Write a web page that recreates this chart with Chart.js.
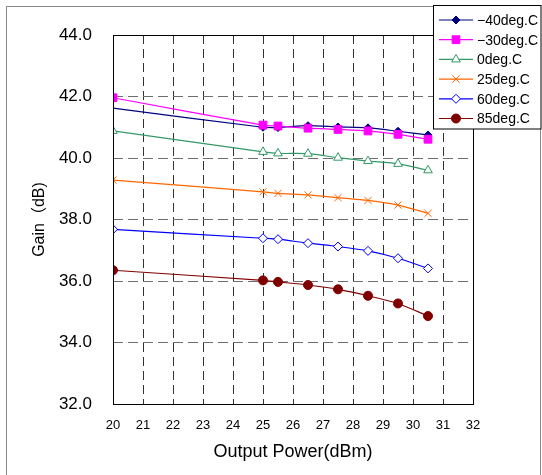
<!DOCTYPE html>
<html>
<head>
<meta charset="utf-8">
<script src="https://cdn.jsdelivr.net/npm/chart.js@4.4.0/dist/chart.umd.min.js"></script>
<style>
  body { margin: 0; background: #fff; }
  #wrap { position: relative; width: 542px; height: 475px; }
</style>
</head>
<body>
<div id="wrap"><canvas id="gainChart" width="542" height="475"></canvas></div>
<script>
// Data
const powerPoints = [20, 25, 25.5, 26.5, 27.5, 28.5, 29.5, 30.5];
const seriesLabels = ['\u221240deg.C', '\u221230deg.C', '0deg.C', '25deg.C', '60deg.C', '85deg.C'];
const gainM40 = [41.62, 41.00, 40.99, 41.05, 41.01, 40.98, 40.87, 40.75];
const gainM30 = [41.96, 41.07, 41.04, 40.97, 40.93, 40.88, 40.77, 40.61];
const gain0 = [40.88, 40.20, 40.15, 40.14, 40.01, 39.90, 39.81, 39.60];
const gain25 = [39.28, 38.90, 38.85, 38.80, 38.71, 38.62, 38.47, 38.20];
const gain60 = [37.68, 37.39, 37.36, 37.23, 37.12, 36.98, 36.74, 36.41];
const gain85 = [36.35, 36.02, 35.97, 35.87, 35.73, 35.52, 35.27, 34.86];
const yTicks = [32, 34, 36, 38, 40, 42, 44];

const FONT = '"Liberation Sans", Arial, "Noto Sans CJK JP", sans-serif';
const toXY = arr => arr.map((v, i) => ({ x: powerPoints[i], y: v }));

function makeSet(idx, values, color, style, fill, radius) {
  return {
    label: seriesLabels[idx],
    data: toXY(values),
    order: 5 - idx, // later series on top, like the original
    borderColor: color,
    backgroundColor: fill,
    pointStyle: style,
    pointRadius: radius,
    pointBorderColor: color,
    pointBackgroundColor: fill,
    pointBorderWidth: 1,
    borderWidth: 1.2,
    tension: 0.25,
    fill: false
  };
}

const datasets = [
  makeSet(0, gainM40, '#000080', 'rectRot', '#000080', [0, 4, 4, 4, 4, 4, 4, 4]),
  makeSet(1, gainM30, '#ff00ff', 'rect', '#ff00ff', 5.5),
  makeSet(2, gain0, '#339966', 'triangle', '#ffffff', 5),
  makeSet(3, gain25, '#ff6600', 'crossRot', '#ff6600', 5),
  makeSet(4, gain60, '#0000ff', 'rectRot', '#ffffff', 4.5),
  makeSet(5, gain85, '#800000', 'circle', '#800000', 4.5)
];

// Frame around the whole picture and around the plot, plus the boxed legend
const framePlugin = {
  id: 'frames',
  beforeDraw(chart) {
    const c = chart.ctx;
    c.save();
    c.fillStyle = '#fff';
    c.fillRect(0, 0, chart.width, chart.height);
    c.strokeStyle = '#8a8a8a';
    c.lineWidth = 1;
    c.strokeRect(6.5, 6.5, 534, 480);
    c.restore();
  },
  afterDatasetsDraw(chart) {
    const c = chart.ctx;
    const a = chart.chartArea;
    c.save();
    c.strokeStyle = '#000';
    c.lineWidth = 1;
    c.strokeRect(Math.round(a.left) + 0.5, Math.round(a.top) + 0.5, Math.round(a.right - a.left), Math.round(a.bottom - a.top));
    c.restore();
  },
  afterDraw(chart) {
    const c = chart.ctx;
    c.save();
    c.fillStyle = '#fff';
    c.fillRect(433, 5, 109, 124);
    c.strokeStyle = '#000';
    c.lineWidth = 1;
    c.strokeRect(433.5, 5.5, 107.5, 123.5);
    c.font = '14px ' + FONT;
    c.textBaseline = 'middle';
    c.textAlign = 'left';
    chart.data.datasets.forEach((ds, i) => {
      const y = 20 + i * 19.7;
      c.strokeStyle = ds.borderColor;
      c.lineWidth = 1.2;
      c.beginPath();
      c.moveTo(439, y);
      c.lineTo(473, y);
      c.stroke();
      c.fillStyle = ds.pointBackgroundColor;
      c.strokeStyle = ds.pointBorderColor;
      c.lineWidth = 1;
      const r = Array.isArray(ds.pointRadius) ? ds.pointRadius[1] : ds.pointRadius;
      Chart.helpers.drawPoint(c, { pointStyle: ds.pointStyle, radius: r, rotation: 0, borderWidth: 1 }, 456, y);
      c.fillStyle = '#000';
      c.fillText(ds.label, 477, y + 1);
    });
    c.restore();
  }
};

const ctx = document.getElementById('gainChart').getContext('2d');
const chart = new Chart(ctx, {
  type: 'line',
  data: { datasets: datasets },
  options: {
    responsive: false,
    animation: false,
    color: '#000',
    layout: { padding: { left: 0, right: 69, top: 35, bottom: 0 } },
    plugins: { legend: { display: false }, tooltip: { enabled: false } },
    scales: {
      x: {
        type: 'linear',
        min: 20,
        max: 32,
        afterFit: s => { s.height = 71; },
        ticks: {
          stepSize: 1,
          padding: 14,
          color: '#000',
          font: { family: FONT, size: 13 }
        },
        grid: { color: '#333', drawTicks: false, lineWidth: 1 },
        border: { display: false, dash: [9, 5] },
        title: {
          display: true,
          text: 'Output Power(dBm)',
          color: '#000',
          padding: { top: 12, bottom: 12 },
          font: { family: FONT, size: 18 }
        }
      },
      y: {
        min: 32,
        max: 44,
        afterFit: s => { s.width = 113; },
        afterBuildTicks: s => { s.ticks = yTicks.map(v => ({ value: v })); },
        ticks: {
          padding: 21,
          color: '#000',
          callback: v => v.toFixed(1),
          font: { family: FONT, size: 17 }
        },
        grid: { color: '#6e6e6e', drawTicks: false, lineWidth: 1 },
        border: { display: false, dash: [10, 5] },
        title: {
          display: true,
          text: 'Gain\uff08dB)',
          color: '#000',
          padding: { top: 30, bottom: 0 },
          font: { family: FONT, size: 16 }
        }
      }
    }
  },
  plugins: [framePlugin]
});
</script>
</body>
</html>
